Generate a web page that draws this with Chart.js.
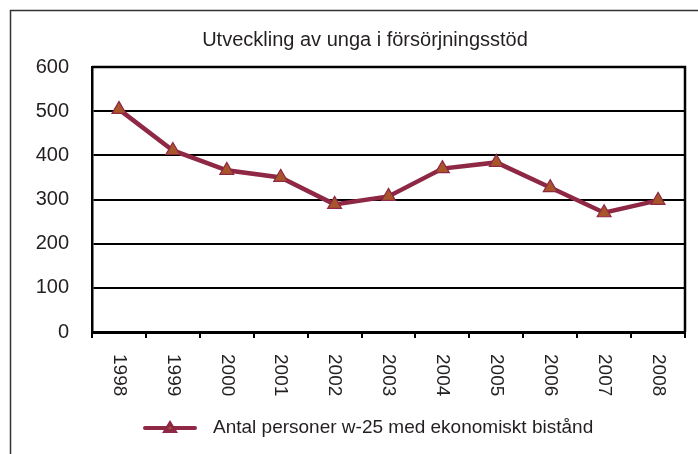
<!DOCTYPE html>
<html>
<head>
<meta charset="utf-8">
<script src="https://cdn.jsdelivr.net/npm/chart.js@4/dist/chart.umd.min.js"></script>
<style>
  html, body { margin: 0; padding: 0; background: #fff; }
  #wrap { position: relative; width: 698px; height: 454px; }
</style>
</head>
<body>
<div id="wrap"><canvas id="c" width="698" height="454"></canvas></div>
<script>
const chartTitle = 'Utveckling av unga i försörjningsstöd';
const years = ['1998','1999','2000','2001','2002','2003','2004','2005','2006','2007','2008'];
const seriesLabel = 'Antal personer w-25 med ekonomiskt bistånd';
const seriesValues = [504, 411, 366, 350, 289, 307, 370, 384, 327, 270, 298];
const yTicks = [0, 100, 200, 300, 400, 500, 600];

const LINE = '#8E2845';
const FILL = '#A8552A';
const TEXT = '#231F20';
const FONT = '"Liberation Sans", Arial, sans-serif';

const framePlugin = {
  id: 'frame',
  beforeDraw(chart) {
    const ctx = chart.ctx;
    ctx.save();
    ctx.fillStyle = '#fff';
    ctx.fillRect(0, 0, chart.width, chart.height);
    ctx.strokeStyle = '#333';
    ctx.lineWidth = 1.5;
    ctx.strokeRect(10.5, 10.5, chart.width + 20, chart.height + 20);
    ctx.restore();
  },
  afterDraw(chart) {
    const ctx = chart.ctx;
    const a = chart.chartArea;
    ctx.save();
    ctx.strokeStyle = '#000';
    ctx.lineWidth = 2.5;
    ctx.beginPath();
    ctx.moveTo(a.left, a.top);
    ctx.lineTo(a.right, a.top);
    ctx.lineTo(a.right, a.bottom);
    ctx.stroke();

    // title
    ctx.fillStyle = TEXT;
    ctx.font = '20px ' + FONT;
    ctx.textAlign = 'center';
    ctx.textBaseline = 'middle';
    ctx.fillText(chartTitle, 365, 40);

    // rotated x labels (clockwise)
    const xs = chart.scales.x;
    ctx.font = '19px ' + FONT;
    ctx.textAlign = 'left';
    ctx.textBaseline = 'middle';
    chart.data.labels.forEach((lab, i) => {
      const x = xs.getPixelForTick(i);
      ctx.save();
      ctx.translate(x, a.bottom + 22);
      ctx.rotate(Math.PI / 2);
      ctx.fillText(lab, 0, 0);
      ctx.restore();
    });

    // legend
    const ds = chart.data.datasets[0];
    const ly = 428;
    const lx0 = 145, lx1 = 195;
    ctx.strokeStyle = ds.borderColor;
    ctx.lineWidth = 4;
    ctx.lineCap = 'round';
    ctx.beginPath();
    ctx.moveTo(lx0, ly);
    ctx.lineTo(lx1, ly);
    ctx.stroke();
    ctx.fillStyle = ds.borderColor;
    ctx.beginPath();
    const cx = (lx0 + lx1) / 2;
    ctx.moveTo(cx, ly - 8);
    ctx.lineTo(cx + 8, ly + 5);
    ctx.lineTo(cx - 8, ly + 5);
    ctx.closePath();
    ctx.fill();
    ctx.fillStyle = ds.pointBackgroundColor;
    ctx.beginPath();
    ctx.moveTo(cx, ly - 2);
    ctx.lineTo(cx + 2, ly + 1);
    ctx.lineTo(cx - 2, ly + 1);
    ctx.closePath();
    ctx.fill();
    ctx.fillStyle = TEXT;
    ctx.font = '19px ' + FONT;
    ctx.textAlign = 'left';
    ctx.textBaseline = 'middle';
    ctx.fillText(ds.label, 213, ly);
    ctx.restore();
  }
};

new Chart(document.getElementById('c'), {
  type: 'line',
  data: {
    labels: years,
    datasets: [{
      label: seriesLabel,
      data: seriesValues,
      borderColor: LINE,
      borderWidth: 4.5,
      tension: 0,
      pointStyle: 'triangle',
      pointRadius: 8,
      pointHoverRadius: 8,
      pointBackgroundColor: FILL,
      pointBorderColor: LINE,
      pointBorderWidth: 1.2
    }]
  },
  options: {
    responsive: false,
    animation: false,
    events: [],
    layout: { padding: { left: 13, right: 13, top: 67, bottom: 42 } },
    plugins: {
      legend: { display: false },
      tooltip: { enabled: false },
      title: { display: false }
    },
    scales: {
      x: {
        offset: true,
        grid: { offset: true, drawOnChartArea: false, drawTicks: true, tickLength: 6, color: '#000', lineWidth: 2 },
        border: { color: '#000', width: 3 },
        ticks: { display: false },
        afterFit(scale) { scale.height = 80; }
      },
      y: {
        min: 0, max: 600,
        afterBuildTicks(scale) { scale.ticks = yTicks.map(v => ({ value: v })); },
        grid: { color: '#000', lineWidth: 2, drawTicks: false },
        border: { color: '#000', width: 2.5 },
        ticks: { color: TEXT, font: { family: FONT, size: 20 }, padding: 23 },
        afterFit(scale) { scale.width = 79; }
      }
    }
  },
  plugins: [framePlugin]
});
</script>
</body>
</html>
